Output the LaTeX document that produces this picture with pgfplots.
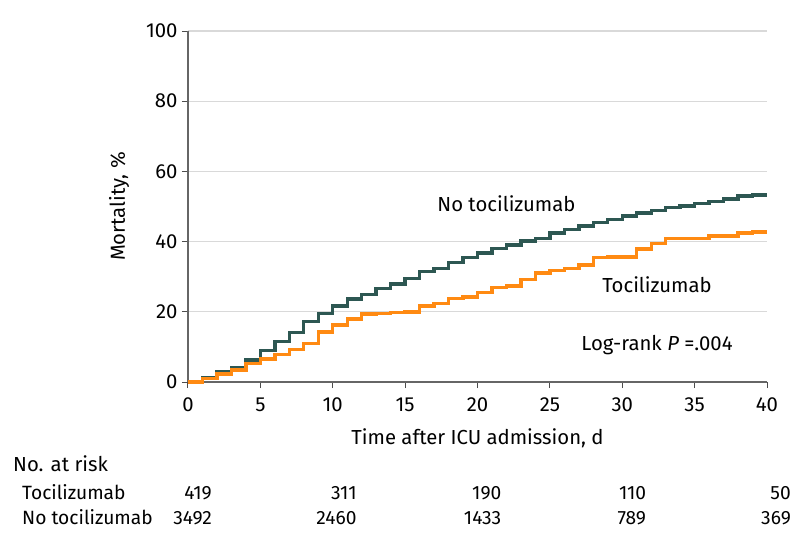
\documentclass[border=0pt]{standalone}
\usepackage{pgfplots}
\pgfplotsset{compat=1.18}
\usepackage{pgfplotstable}
\usepackage{fontspec}
\setmainfont{Fira Sans}
\definecolor{kmgreen}{RGB}{45,87,82}
\definecolor{kmorange}{RGB}{255,138,18}
\newcommand\f{\fontsize{20.3}{23}\selectfont}
\newcommand\g{\fontsize{19.2}{22}\selectfont}
\tikzset{risk/.style={font=\g, anchor=base east, inner sep=0pt}}
\pgfplotstableread{
d v
0 0
1 1.2
2 2.8
3 4.1
4 6.3
5 8.9
6 11.5
7 14.1
8 17.3
9 19.5
10 21.6
11 23.6
12 25.0
13 26.7
14 27.9
15 29.5
16 31.4
17 32.4
18 34.0
19 35.5
20 36.8
21 38.1
22 39.0
23 40.2
24 40.9
25 42.4
26 43.5
27 44.4
28 45.4
29 46.3
30 47.3
31 48.1
32 48.8
33 49.7
34 50.2
35 50.9
36 51.4
37 52.1
38 53.0
39 53.3
40 53.3
}\notoci
\pgfplotstableread{
d v
0 0
1 1.05
2 2.3
3 3.4
4 5.3
5 6.5
6 7.9
7 9.3
8 11.0
9 14.3
10 16.2
11 17.9
12 19.4
13 19.6
14 19.8
15 20.0
16 21.6
17 22.4
18 23.8
19 24.2
20 25.5
21 27.0
22 27.4
23 29.2
24 31.0
25 31.7
26 32.4
27 33.3
28 35.5
29 35.6
30 35.6
31 37.9
32 39.5
33 40.9
34 40.9
35 40.9
36 41.6
37 41.6
38 42.4
39 42.7
40 42.7
}\toci
\begin{document}
\begin{tikzpicture}
\useasboundingbox (-188pt,-165pt) rectangle (610pt,382pt);
\begin{axis}[
  at={(0,0)}, anchor=south west,
  width=579pt, height=351pt, scale only axis,
  xmin=0, xmax=40, ymin=0, ymax=100,
  enlargelimits=false, clip=false,
  axis lines=left,
  axis line style={-, draw=black!60, line width=1.2pt},
  xtick={0,5,...,40}, ytick={0,20,...,100},
  tick align=outside, major tick length=6pt,
  tick style={draw=black!70, line width=1pt},
  ymajorgrids, grid style={draw=black!15, line width=1.3pt},
  /pgf/number format/assume math mode=true,
  ticklabel style={font=\f},
  xticklabel style={yshift=-6pt},
  yticklabel style={xshift=-1pt},
  xlabel={Time after ICU admission, d},
  ylabel={Mortality, \%},
  xlabel style={font=\f, at={(axis description cs:0.5,-0.1595)}, anchor=center},
  ylabel style={font=\f, at={(axis description cs:-0.119,0.5)}, anchor=center},
]
\addplot[const plot, kmgreen, line width=3.4pt] table[x=d,y=v]{\notoci};
\addplot[const plot, kmorange, line width=3.4pt] table[x=d,y=v]{\toci};
\node[font=\f] at (axis cs:22.0,50.7) {No tocilizumab};
\node[font=\f] at (axis cs:32.4,27.6) {Tocilizumab};
\node[font=\f] at (axis cs:32.4,10.5) {Log-rank \textit{P} =.004};
\node[font=\f, anchor=base west, inner sep=0pt] at (axis cs:-12.09,-25.6) {No. at risk};
\node[font=\g, anchor=base west, inner sep=0pt] at (axis cs:-11.47,-33.6) {Tocilizumab};
\node[font=\g, anchor=base west, inner sep=0pt] at (axis cs:-11.47,-40.5) {No tocilizumab};
\node[risk] at (axis cs:1.66,-33.6) {419};
\node[risk] at (axis cs:11.66,-33.6) {311};
\node[risk] at (axis cs:21.66,-33.6) {190};
\node[risk] at (axis cs:31.66,-33.6) {110};
\node[risk] at (axis cs:41.66,-33.6) {50};
\node[risk] at (axis cs:1.66,-40.5) {3492};
\node[risk] at (axis cs:11.66,-40.5) {2460};
\node[risk] at (axis cs:21.66,-40.5) {1433};
\node[risk] at (axis cs:31.66,-40.5) {789};
\node[risk] at (axis cs:41.66,-40.5) {369};
\end{axis}
\end{tikzpicture}
\end{document}
